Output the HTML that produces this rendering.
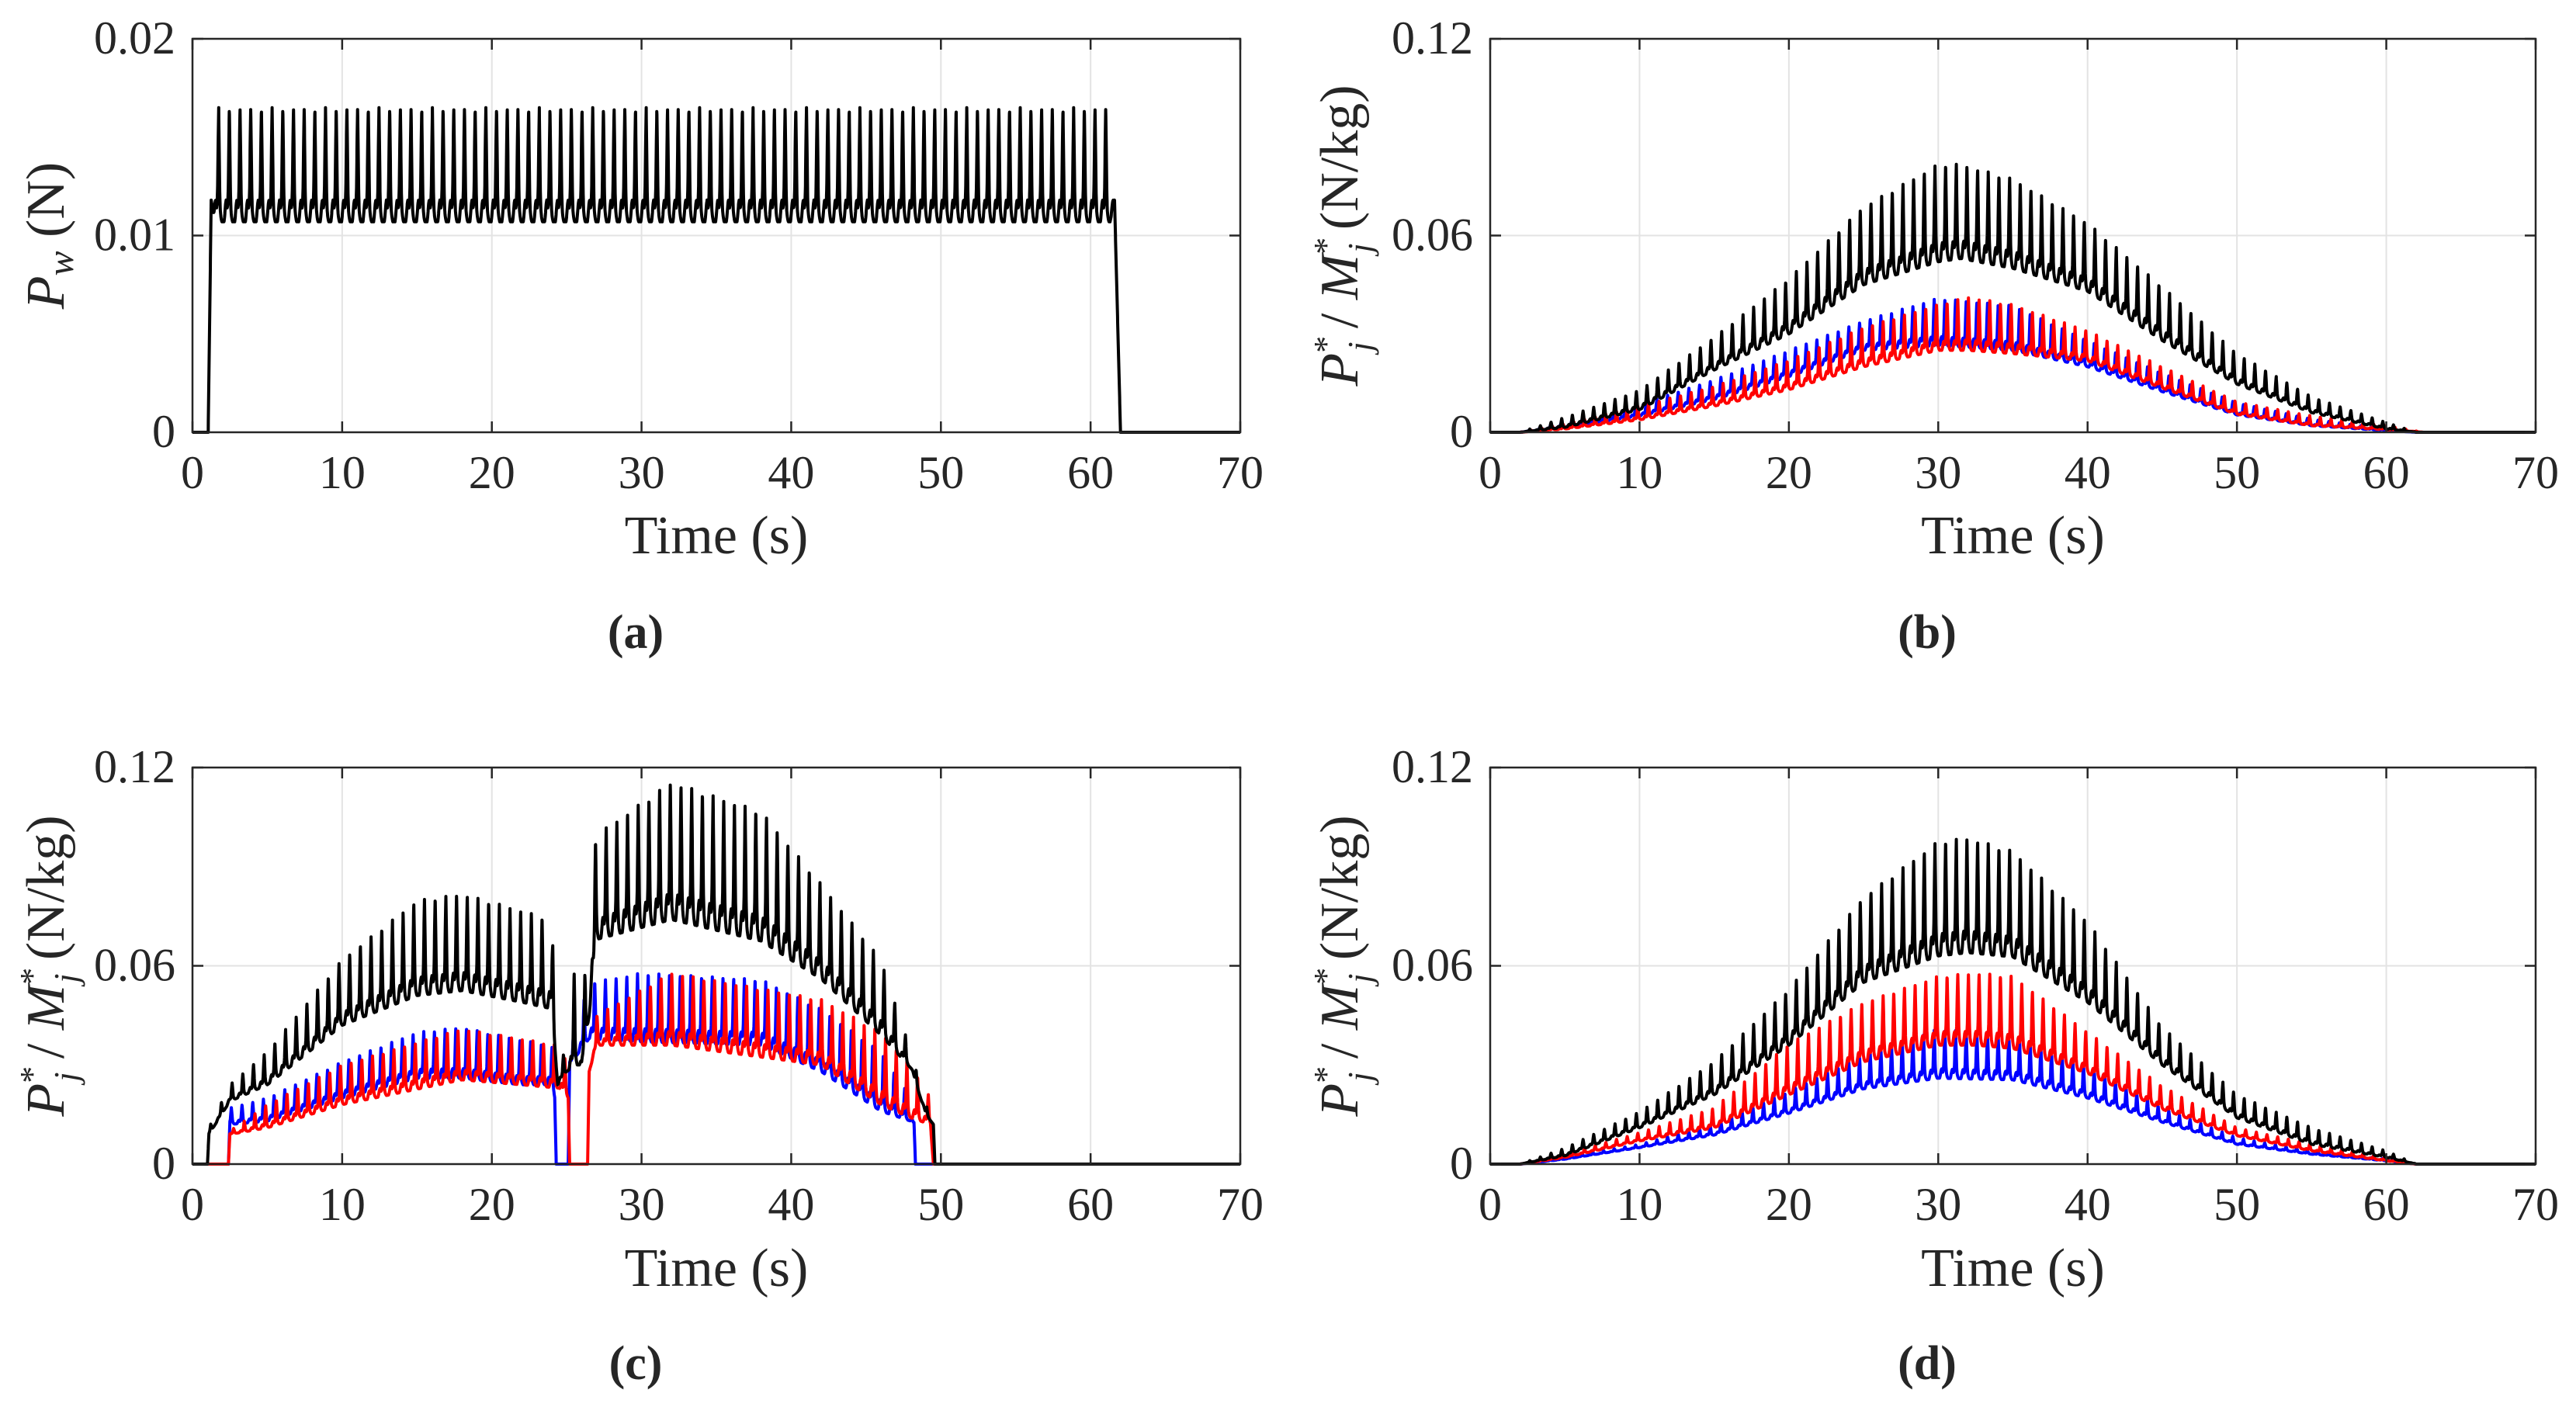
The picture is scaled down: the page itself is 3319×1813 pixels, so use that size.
<!DOCTYPE html>
<html><head><meta charset="utf-8"><style>
html,body{margin:0;padding:0;background:#fff;}
svg{display:block;}
text{font-family:"Liberation Serif",serif;fill:#262626;}
</style></head>
<body>
<svg id="fig" xmlns="http://www.w3.org/2000/svg" width="3319" height="1813" viewBox="0 0 3319 1813"></svg>
<script>
// ---------- data ----------
const xTicks = [0,10,20,30,40,50,60,70];
const yTicksA = [0,0.01,0.02];
const yTickLabelsA = ["0","0.01","0.02"];
const yTicksB = [0,0.06,0.12];
const yTickLabelsB = ["0","0.06","0.12"];
const period = 0.714;
// normalized waveform of one stride cycle
const waveShape = [0,0.04,0.1,0.16,0.19,0.16,0.12,0.15,0.3,0.7,1.0,0.65,0.25,0.1,0.05,0.02,0,0,0,0];

// panel a: Pw
const aT      = [0,1.05,1.25,1.5,61.3,61.6,62.0,70];
const aPeak   = [0,0,0.0118,0.0165,0.0165,0.0118,0,0];
const aTrough = [0,0,0.0118,0.0107,0.0107,0.0118,0,0];

// panel b
const bBlackT = [0,2,5,10,15,20,25,30,31.5,35,40,45,50,55,60,62,70];
const bBlackPeak = [0,0,0.0045,0.0128,0.029,0.047,0.069,0.082,0.082,0.0775,0.064,0.0445,0.024,0.0108,0.003,0,0];
const bBlackTrough = [0,0,0.0015,0.0069,0.019,0.030,0.045,0.052,0.053,0.050,0.043,0.028,0.0147,0.006,0.001,0,0];
const bBlueT = [0,2,5,10,15,20,25,30,35,40,45,50,55,60,62,70];
const bBluePeak = [0,0,0.003,0.0085,0.016,0.025,0.034,0.041,0.0387,0.028,0.018,0.009,0.004,0.001,0,0];
const bBlueTrough = [0,0,0.0015,0.005,0.010,0.017,0.025,0.0265,0.025,0.020,0.0124,0.0053,0.002,0.0005,0,0];
const bRedT = [0,2,5,10,15,20,25,30,32,35,40,45,50,55,60,62.5,70];
const bRedPeak = [0,0,0.0025,0.008,0.014,0.022,0.032,0.039,0.0414,0.039,0.031,0.020,0.0093,0.005,0.002,0,0];
const bRedTrough = [0,0,0.001,0.0038,0.008,0.013,0.020,0.025,0.025,0.024,0.0218,0.0135,0.0055,0.002,0.0008,0,0];

// panel c
const cBlackT = [0,1,1.1,2.5,5,10,15,18,22,24,24.4,25,25.6,26,26.5,27,32,38,42,46,48,49,49.5,49.6,70];
const cBlackPeak = [0,0,0.011,0.024,0.034,0.062,0.080,0.082,0.077,0.074,0.03,0.035,0.063,0.035,0.088,0.10,0.116,0.107,0.085,0.062,0.034,0.018,0.012,0,0];
const cBlackTrough = [0,0,0.009,0.019,0.024,0.042,0.051,0.0525,0.049,0.047,0.024,0.028,0.03,0.03,0.045,0.068,0.074,0.0675,0.056,0.039,0.029,0.015,0.012,0,0];
const cBlueT = [0,2.4,2.5,5,10,15,18,22,24,24.2,24.3,25.1,25.2,26.5,30,38,42,46,48,48.2,48.3,70];
const cBluePeak = [0,0,0.017,0.020,0.031,0.040,0.0415,0.0376,0.036,0.03,0,0,0.035,0.055,0.058,0.056,0.047,0.034,0.02,0.015,0,0];
const cBlueTrough = [0,0,0.012,0.013,0.020,0.026,0.026,0.024,0.024,0.02,0,0,0.03,0.038,0.037,0.036,0.028,0.016,0.013,0.012,0,0];
const cRedT = [0,2.4,2.5,5,10,18,22,24.5,25.1,25.2,26.4,26.5,27,32,42,46,48,49.3,49.5,70];
const cRedPeak = [0,0,0.01,0.018,0.030,0.041,0.038,0.036,0.03,0,0,0.03,0.045,0.058,0.05,0.04,0.03,0.02,0,0];
const cRedTrough = [0,0,0.009,0.011,0.018,0.0255,0.024,0.023,0.02,0,0,0.028,0.036,0.036,0.030,0.018,0.014,0.012,0,0];

// panel d
const dBlackT = [0,2,5,10,15,20,25,30,32,35,40,45,50,55,60,62,70];
const dBlackPeak = [0,0,0.0048,0.0158,0.031,0.053,0.081,0.098,0.099,0.095,0.0736,0.0415,0.021,0.011,0.004,0,0];
const dBlackTrough = [0,0,0.0025,0.011,0.021,0.036,0.055,0.063,0.064,0.0627,0.049,0.030,0.014,0.006,0.002,0,0];
const dRedT = [0,2,5,10,15,20,25,30,32.5,35,40,45,50,55,60,62,70];
const dRedPeak = [0,0,0.003,0.0095,0.017,0.0365,0.049,0.057,0.058,0.057,0.040,0.0236,0.011,0.006,0.002,0,0];
const dRedTrough = [0,0,0.002,0.007,0.011,0.021,0.031,0.036,0.036,0.035,0.0275,0.0166,0.0086,0.004,0.001,0,0];
const dBlueT = [0,2,5,10,15,20,25,30,35,40,45,50,55,60,62,70];
const dBluePeak = [0,0,0.002,0.006,0.012,0.022,0.033,0.041,0.039,0.030,0.017,0.008,0.004,0.0015,0,0];
const dBlueTrough = [0,0,0.0015,0.005,0.0088,0.0154,0.0228,0.026,0.0255,0.020,0.0127,0.006,0.003,0.001,0,0];

// ---------- drawing ----------
const NS = "http://www.w3.org/2000/svg";
const svg = document.getElementById("fig");
function el(tag, attrs, parent){
  const e = document.createElementNS(NS, tag);
  for (const k in attrs) e.setAttribute(k, attrs[k]);
  (parent||svg).appendChild(e);
  return e;
}
function interp(ts, vs, t){
  if (t <= ts[0]) return vs[0];
  for (let i=1;i<ts.length;i++){
    if (t <= ts[i]){ const f=(t-ts[i-1])/(ts[i]-ts[i-1]); return vs[i-1]+f*(vs[i]-vs[i-1]); }
  }
  return vs[vs.length-1];
}
function shapeAt(ph){
  ph = ((ph%1)+1)%1;
  const n = waveShape.length, x = ph*n, i = Math.floor(x), f = x-i;
  return waveShape[i%n]*(1-f) + waveShape[(i+1)%n]*f;
}

const panels = [
  {id:"a", x0:248, x1:1598, y0:50, y1:557, yMax:0.02, yt:yTicksA, yl:yTickLabelsA, lx:58, cap:"(a)", capX:819, capY:835, tlY:713, ylabel:"pw"},
  {id:"b", x0:1920, x1:3267, y0:50, y1:557, yMax:0.12, yt:yTicksB, yl:yTickLabelsB, lx:1725, cap:"(b)", capX:2483, capY:835, tlY:713, ylabel:"pm"},
  {id:"c", x0:248, x1:1598, y0:989, y1:1500, yMax:0.12, yt:yTicksB, yl:yTickLabelsB, lx:58, cap:"(c)", capX:819, capY:1777, tlY:1657, ylabel:"pm"},
  {id:"d", x0:1920, x1:3267, y0:989, y1:1500, yMax:0.12, yt:yTicksB, yl:yTickLabelsB, lx:1725, cap:"(d)", capX:2483, capY:1777, tlY:1657, ylabel:"pm"}
];
const series = {
  a:[{name:"pw-line", color:"#000", t:aT, p:aPeak, tr:aTrough, off:1.393}],
  b:[{name:"blue-series", color:"#0000ff", t:bBlueT, p:bBluePeak, tr:bBlueTrough, off:0.1},
     {name:"red-series", color:"#ff0000", t:bRedT, p:bRedPeak, tr:bRedTrough, off:0.25},
     {name:"black-series", color:"#000", t:bBlackT, p:bBlackPeak, tr:bBlackTrough, off:0.15}],
  c:[{name:"blue-series", color:"#0000ff", t:cBlueT, p:cBluePeak, tr:cBlueTrough, off:0.1},
     {name:"red-series", color:"#ff0000", t:cRedT, p:cRedPeak, tr:cRedTrough, off:0.25},
     {name:"black-series", color:"#000", t:cBlackT, p:cBlackPeak, tr:cBlackTrough, off:0.15}],
  d:[{name:"blue-series", color:"#0000ff", t:dBlueT, p:dBluePeak, tr:dBlueTrough, off:0.1},
     {name:"red-series", color:"#ff0000", t:dRedT, p:dRedPeak, tr:dRedTrough, off:0.25},
     {name:"black-series", color:"#000", t:dBlackT, p:dBlackPeak, tr:dBlackTrough, off:0.15}]
};

panels.forEach(P=>{
  const g = el("g",{});
  
  
  const X = t => P.x0 + (t/70)*(P.x1-P.x0);
  const Y = v => P.y1 - (v/P.yMax)*(P.y1-P.y0);
  // grid
  xTicks.forEach(t=>{ if(t>0&&t<70){ const l=el("line",{x1:X(t),x2:X(t),y1:P.y0,y2:P.y1,stroke:"#e3e3e3","stroke-width":2},g);
      }});
  P.yt.forEach(v=>{ if(v>0&&v<P.yMax){ const l=el("line",{x1:P.x0,x2:P.x1,y1:Y(v),y2:Y(v),stroke:"#e3e3e3","stroke-width":2},g);
      }});
  // series
  series[P.id].forEach(S=>{
    let d="";
    for(let t=0;t<=70.0001;t+=0.01){
      const pk=interp(S.t,S.p,t), tr=interp(S.t,S.tr,t);
      const v = tr + (pk-tr)*shapeAt((t-S.off)/period);
      d += (d?"L":"M")+X(t).toFixed(1)+","+Y(v).toFixed(1);
    }
    const p = el("path",{d:d,fill:"none",stroke:S.color,"stroke-width":4,"stroke-linejoin":"round"},g);
    
    
  });
  // axes box
  const box = el("rect",{x:P.x0,y:P.y0,width:P.x1-P.x0,height:P.y1-P.y0,fill:"none",stroke:"#262626","stroke-width":2.5},g);
   
  // ticks + labels
  xTicks.forEach(t=>{
    el("line",{x1:X(t),x2:X(t),y1:P.y1,y2:P.y1-14,stroke:"#262626","stroke-width":2.5},g);
    el("line",{x1:X(t),x2:X(t),y1:P.y0,y2:P.y0+14,stroke:"#262626","stroke-width":2.5},g);
    const tx = el("text",{x:X(t),y:P.y1+72,"font-size":60,"text-anchor":"middle"},g);
    tx.textContent = String(t);
     
  });
  P.yt.forEach((v,i)=>{
    el("line",{x1:P.x0,x2:P.x0+14,y1:Y(v),y2:Y(v),stroke:"#262626","stroke-width":2.5},g);
    el("line",{x1:P.x1,x2:P.x1-14,y1:Y(v),y2:Y(v),stroke:"#262626","stroke-width":2.5},g);
    const tx = el("text",{x:P.x0-22,y:Y(v)+19,"font-size":60,"text-anchor":"end"},g);
    tx.textContent = P.yl[i];
     
  });
  // x title
  const xt = el("text",{x:(P.x0+P.x1)/2,y:P.tlY,"font-size":70,"text-anchor":"middle"},g);
  xt.textContent = "Time (s)";
   
  // y title
  const yc = (P.y0+P.y1)/2;
  const yt = el("text",{x:0,y:0,"font-size":70,"text-anchor":"middle",transform:`translate(${P.lx+24},${yc}) rotate(-90)`},g);
   
  if(P.ylabel==="pw"){
    yt.innerHTML = '<tspan font-style="italic">P</tspan><tspan font-style="italic" font-size="48" dy="12">w</tspan><tspan dy="-12"> (N)</tspan>';
  } else {
    yt.innerHTML = '<tspan font-style="italic">P</tspan><tspan font-size="44" dy="-26">*</tspan><tspan font-style="italic" font-size="44" dx="-20" dy="44">j</tspan><tspan dy="-18"> / </tspan><tspan font-style="italic">M</tspan><tspan font-size="44" dy="-26">*</tspan><tspan font-style="italic" font-size="44" dx="-20" dy="44">j</tspan><tspan dy="-18"> (N/kg)</tspan>';
  }
  // caption
  const cp = el("text",{x:P.capX,y:P.capY,"font-size":62,"text-anchor":"middle","font-weight":"bold"},g);
  cp.textContent = P.cap;
   
});
</script>
</body></html>
